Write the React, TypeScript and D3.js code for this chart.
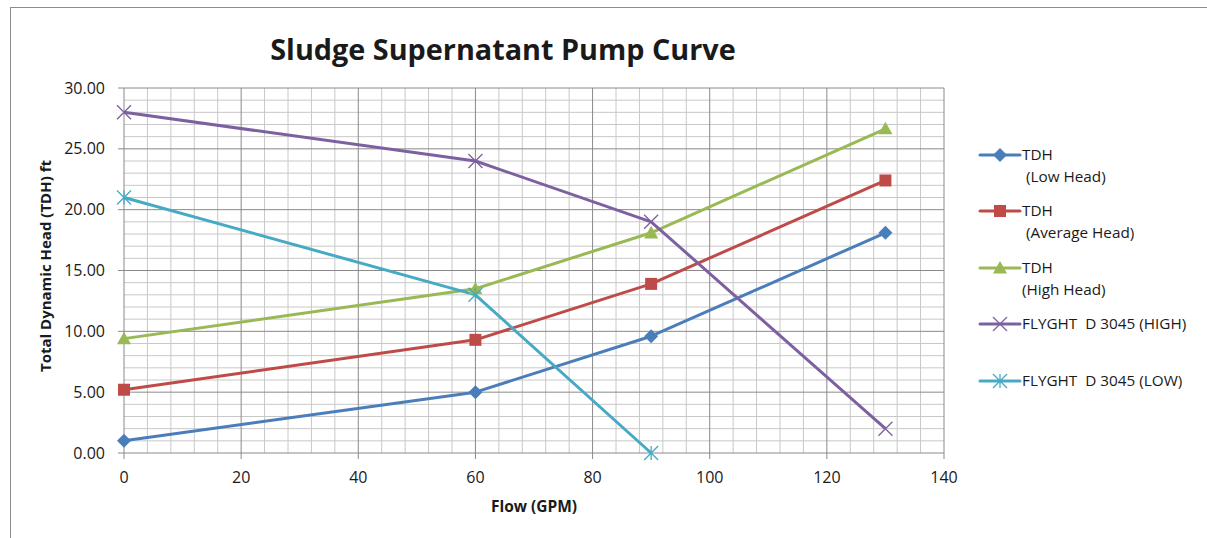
import React from "react";
import * as d3 from "d3";

const flowLow = [0, 60, 90, 130];
const tdhLow = [1.0, 5.0, 9.6, 18.1];
const tdhAvg = [5.2, 9.3, 13.9, 22.4];
const tdhHigh = [9.4, 13.5, 18.1, 26.65];
const flyHighFlow = [0, 60, 90, 130];
const flyHigh = [28, 24, 19, 2];
const flyLowFlow = [0, 60, 90];
const flyLow = [21, 13, 0];

const xTicks = [0, 20, 40, 60, 80, 100, 120, 140];
const yTicks = [0, 5, 10, 15, 20, 25, 30];

const seriesNames = ["TDH\n (Low Head)", "TDH\n (Average Head)", "TDH\n(High Head)", "FLYGHT  D 3045 (HIGH)", "FLYGHT  D 3045 (LOW)"];
const colors = ["#4A7EBB", "#BE4B48", "#98B954", "#7D60A0", "#46AAC5"];
const markers = ["diamond", "square", "triangle", "x", "star"];

const W = 1207, H = 538;
const L = 124, R = 944, T = 88, B = 453;
const FONT = "'Open Sans', 'Liberation Sans', sans-serif";

function Marker({ kind, x, y, color }: { kind: string; x: number; y: number; color: string }) {
  if (kind === "diamond") {
    const s = 7;
    return <path d={`M${x},${y - s}L${x + s},${y}L${x},${y + s}L${x - s},${y}Z`} fill={color} />;
  }
  if (kind === "square") {
    const s = 6;
    return <rect x={x - s} y={y - s} width={2 * s} height={2 * s} fill={color} />;
  }
  if (kind === "triangle") {
    const s = 7;
    return <path d={`M${x},${y - s}L${x + s},${y + s * 0.8}L${x - s},${y + s * 0.8}Z`} fill={color} />;
  }
  if (kind === "x") {
    const s = 7;
    return <path d={`M${x - s},${y - s}L${x + s},${y + s}M${x + s},${y - s}L${x - s},${y + s}`} stroke={color} strokeWidth={1.3} />;
  }
  const s = 7;
  return <path d={`M${x - s},${y - s}L${x + s},${y + s}M${x + s},${y - s}L${x - s},${y + s}M${x},${y - s}L${x},${y + s}`} stroke={color} strokeWidth={1.3} />;
}

export default function App() {
  const x = d3.scaleLinear().domain([0, 140]).range([L, R]);
  const y = d3.scaleLinear().domain([0, 30]).range([B, T]);
  const line = d3.line<[number, number]>().x(d => x(d[0])).y(d => y(d[1]));

  const series: [number, number][][] = [
    flowLow.map((f, i) => [f, tdhLow[i]]),
    flowLow.map((f, i) => [f, tdhAvg[i]]),
    flowLow.map((f, i) => [f, tdhHigh[i]]),
    flyHighFlow.map((f, i) => [f, flyHigh[i]]),
    flyLowFlow.map((f, i) => [f, flyLow[i]]),
  ];

  const minorX = d3.range(0, 141, 4).filter(v => v % 20 !== 0);
  const minorY = d3.range(0, 31, 1).filter(v => v % 5 !== 0);

  const legendY = [155, 211, 268, 324, 381];

  return (
    <svg width={W} height={H} style={{ position: "absolute", left: 0, top: 0 }} fontFamily={FONT}>
      <rect x={0} y={0} width={W} height={H} fill="#fff" />
      <rect x={10.5} y={7.5} width={W + 10} height={H + 10} fill="none" stroke="#8c8c8c" strokeWidth={1} />
      <text x={503} y={60} textAnchor="middle" fontSize={28.8} fontWeight="bold" fill="#1a1a1a">Sludge Supernatant Pump Curve</text>

      {minorX.map(v => <line key={"mx" + v} x1={x(v)} x2={x(v)} y1={T} y2={B} stroke="#c8c8c8" strokeWidth={1} />)}
      {minorY.map(v => <line key={"my" + v} x1={L} x2={R} y1={y(v)} y2={y(v)} stroke="#c8c8c8" strokeWidth={1} />)}
      {xTicks.map(v => <line key={"gx" + v} x1={x(v)} x2={x(v)} y1={T} y2={B + 6} stroke="#8a8a8a" strokeWidth={1} />)}
      {yTicks.map(v => <line key={"gy" + v} x1={L - 6} x2={R} y1={y(v)} y2={y(v)} stroke="#8a8a8a" strokeWidth={1} />)}

      {yTicks.map(v => (
        <text key={"ty" + v} x={L - 19} y={y(v) + 5.5} textAnchor="end" fontSize={16} fill="#1a1a1a">{v.toFixed(2)}</text>
      ))}
      {xTicks.map(v => (
        <text key={"tx" + v} x={x(v)} y={B + 30} textAnchor="middle" fontSize={16} fill="#1a1a1a">{v}</text>
      ))}
      <text x={534} y={512} textAnchor="middle" fontSize={15.5} fontWeight="bold" fill="#1a1a1a">Flow (GPM)</text>
      <text transform={`translate(51,266) rotate(-90)`} textAnchor="middle" fontSize={15} fontWeight="bold" fill="#1a1a1a">Total Dynamic Head (TDH) ft</text>

      {series.map((s, i) => (
        <path key={"l" + i} d={line(s) || ""} fill="none" stroke={colors[i]} strokeWidth={3} strokeLinejoin="round" />
      ))}
      {series.map((s, i) => s.map((p, j) => <Marker key={"m" + i + "-" + j} kind={markers[i]} x={x(p[0])} y={y(p[1])} color={colors[i]} />))}

      {seriesNames.map((name, i) => {
        const ly = legendY[i];
        const lines = name.split("\n");
        return (
          <g key={"lg" + i}>
            <line x1={980} x2={1020} y1={ly} y2={ly} stroke={colors[i]} strokeWidth={3} strokeLinecap="round" />
            <Marker kind={markers[i]} x={1000} y={ly} color={colors[i]} />
            {lines.map((t, k) => (
              <text key={k} x={1022} y={ly + 5 + k * 22} fontSize={15.3} fill="#1a1a1a" style={{ whiteSpace: "pre" }}>{t}</text>
            ))}
          </g>
        );
      })}
    </svg>
  );
}
